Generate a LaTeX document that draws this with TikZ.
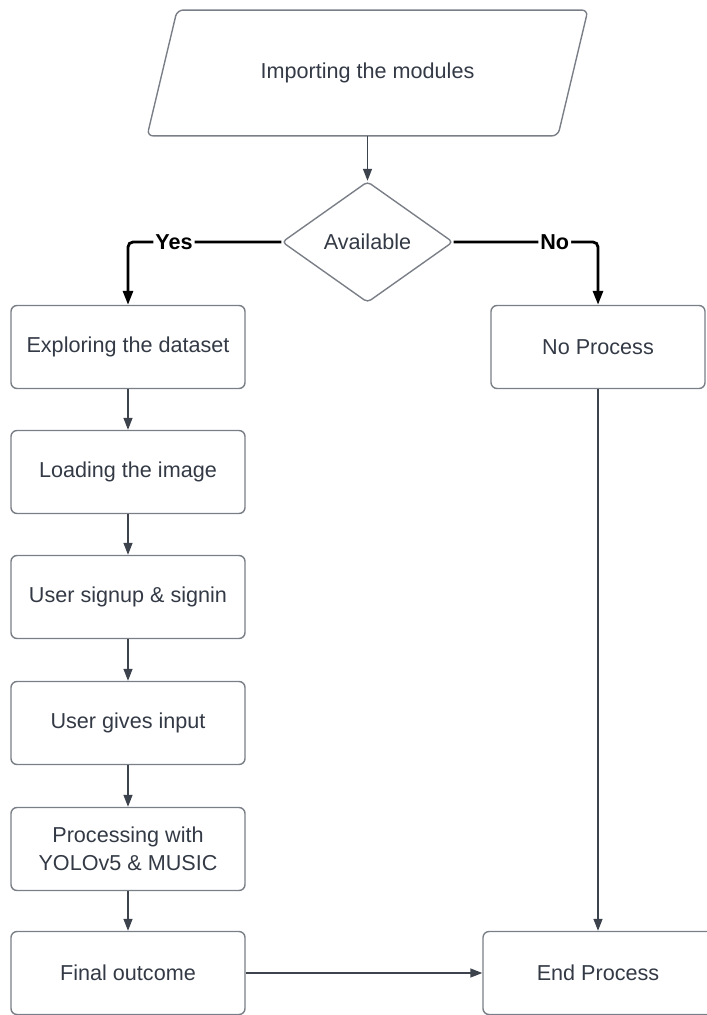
\documentclass[tikz,border=0pt]{standalone}
\usepackage{fontspec}
\setmainfont{Liberation Sans}
\usetikzlibrary{shapes.geometric, arrows.meta, positioning}

\definecolor{inkcol}{HTML}{333A45}
\definecolor{edgecol}{HTML}{7A7F87}
\definecolor{flowcol}{HTML}{3C434D}

\begin{document}
\begin{tikzpicture}[x=0.5pt, y=-0.5pt,
    stepbox/.style={rectangle, draw=edgecol, line width=0.7pt, rounded corners=3pt,
      minimum width=117pt, minimum height=41.5pt, inner sep=0pt, align=center,
      text=inkcol, font=\fontsize{10.8}{14}\selectfont},
    flow/.style={flowcol, line width=0.7pt, -{Triangle[length=6pt, width=4.5pt]}},
    choice/.style={black, line width=1.4pt, rounded corners=2.5pt, -{Triangle[length=7pt, width=5pt]}},
    lbl/.style={fill=white, inner sep=1pt, text=black, font=\bfseries\fontsize{10.8}{13}\selectfont},
  ]

  \useasboundingbox (0, 0) rectangle (706, 1015);

  % input block, slanted by hand
  \node[rectangle, minimum width=205pt, minimum height=62.5pt, inner sep=0pt,
    text=inkcol, font=\fontsize{10.8}{14}\selectfont] (imp) at (367.5, 73) {Importing the modules};
  \draw[edgecol, line width=0.7pt, rounded corners=3pt]
    ([xshift=-7.5pt]imp.south west) -- ([xshift=7.5pt]imp.north west)
    -- ([xshift=7.5pt]imp.north east) -- ([xshift=-7.5pt]imp.south east) -- cycle;

  \node[diamond, aspect=1.41, draw=edgecol, line width=0.7pt, rounded corners=2pt, inner sep=0pt,
    minimum width=85.5pt, minimum height=60.5pt, text=inkcol,
    font=\fontsize{10.8}{14}\selectfont] (avail) at (367.5, 242) {Available};

  \node[stepbox] (explore) at (128, 347) {Exploring the dataset};
  \node[stepbox] (load) at (128, 472) {Loading the image};
  \node[stepbox] (signup) at (128, 597) {User signup \& signin};
  \node[stepbox] (input) at (128, 723) {User gives input};
  \node[stepbox] (proc) at (128, 849) {Processing with\\YOLOv5 \& MUSIC};
  \node[stepbox] (final) at (128, 973) {Final outcome};

  \node[stepbox, minimum width=107pt] (noproc) at (598, 347) {No Process};
  \node[stepbox, minimum width=115pt] (endp) at (598, 973) {End Process};

  \draw[flow] (imp.south -| avail.north) -- (avail.north);

  \draw[choice] (avail.west) -| node[lbl, pos=0.35] {Yes} (explore.north);
  \draw[choice] (avail.east) -| node[lbl, pos=0.35] {No} (noproc.north);

  \draw[flow] (explore) -- (load);
  \draw[flow] (load) -- (signup);
  \draw[flow] (signup) -- (input);
  \draw[flow] (input) -- (proc);
  \draw[flow] (proc) -- (final);
  \draw[flow] (final) -- (endp);
  \draw[flow] (noproc) -- (endp);
\end{tikzpicture}
\end{document}
